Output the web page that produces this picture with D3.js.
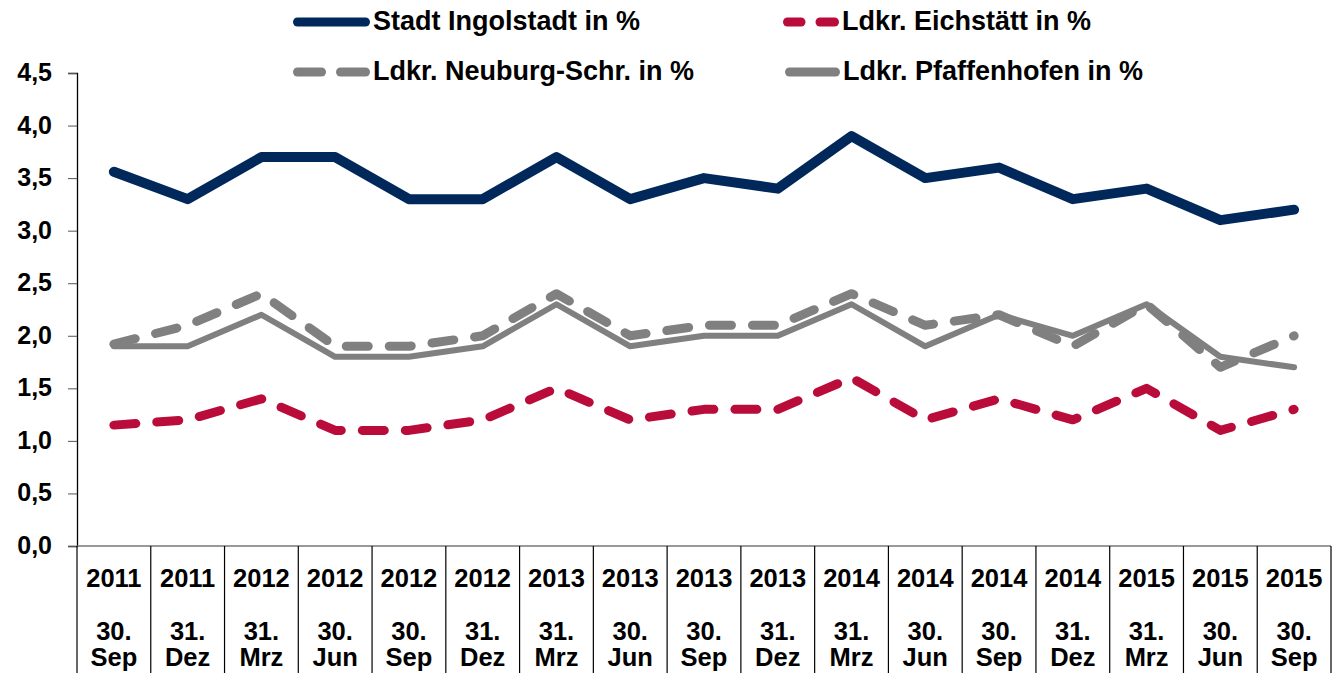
<!DOCTYPE html>
<html>
<head>
<meta charset="utf-8">
<style>
  body { margin: 0; background: #ffffff; font-family: "Liberation Sans", Arial, sans-serif; }
  svg { display: block; }
</style>
<script src="https://d3js.org/d3.v7.min.js"></script>
</head>
<body>
<svg id="chart"></svg>
<script>
let years = ["2011","2011","2012","2012","2012","2012","2013","2013","2013","2013","2014","2014","2014","2014","2015","2015","2015"]
let days = ["30.","31.","31.","30.","30.","31.","31.","30.","30.","31.","31.","30.","30.","31.","31.","30.","30."]
let months = ["Sep","Dez","Mrz","Jun","Sep","Dez","Mrz","Jun","Sep","Dez","Mrz","Jun","Sep","Dez","Mrz","Jun","Sep"]

let ingolstadt = [3.56,3.3,3.7,3.7,3.3,3.3,3.7,3.3,3.5,3.4,3.9,3.5,3.6,3.3,3.4,3.1,3.2]
let eichstaett = [1.15,1.2,1.4,1.1,1.1,1.2,1.5,1.2,1.3,1.3,1.6,1.2,1.4,1.2,1.5,1.1,1.3]
let neuburg = [1.92,2.1,2.4,1.9,1.9,2.0,2.4,2.0,2.1,2.1,2.4,2.1,2.2,1.9,2.3,1.7,2.0]
let pfaffenhofen = [1.9,1.9,2.2,1.8,1.8,1.9,2.3,1.9,2.0,2.0,2.3,1.9,2.2,2.0,2.3,1.8,1.7]

let yTicks = [0,0.5,1,1.5,2,2.5,3,3.5,4,4.5]

let width = 1339, height = 673
let plotLeft = 77, plotRight = 1331, plotTop = 73, plotBottom = 546
let font = "'Liberation Sans', Arial, sans-serif"

let svg = d3.select("#chart").attr("width", width).attr("height", height)

let idx = d3.range(years.length)
let x = d3.scaleBand().domain(idx).range([plotLeft, plotRight])
let y = d3.scaleLinear().domain([0, 4.5]).range([plotBottom, plotTop])

// y axis
let yAxis = d3.axisLeft(y).tickValues(yTicks).tickSize(9).tickPadding(16)
  .tickFormat(d => d3.format(".1f")(d).replace(".", ","))
let gy = svg.append("g").attr("transform", `translate(${plotLeft},0)`).call(yAxis)
gy.select(".domain").attr("stroke", "#000").attr("stroke-width", 1.3)
gy.selectAll(".tick line").attr("stroke", "#555")
gy.selectAll("text").attr("font-size", 25).attr("font-weight", "bold").attr("fill", "#000")
  .attr("font-family", font).attr("dy", "0.3em")

// x axis base line
svg.append("line").attr("x1", plotLeft).attr("x2", plotRight).attr("y1", plotBottom).attr("y2", plotBottom)
  .attr("stroke", "#777").attr("stroke-width", 1.5)

// category separators
let seps = idx.map(i => x(i)).concat([plotRight])
svg.append("g").selectAll("line").data(seps).enter().append("line")
  .attr("x1", d => d).attr("x2", d => d)
  .attr("y1", plotBottom).attr("y2", height)
  .attr("stroke", "#000").attr("stroke-width", 1.2)

let lab = svg.append("g").attr("font-family", font)
  .attr("font-weight", "bold").attr("font-size", 25.5).attr("text-anchor", "middle").attr("fill", "#000")
lab.selectAll(".yr").data(idx).enter().append("text")
  .attr("x", i => x(i) + x.bandwidth() / 2).attr("y", 587).text(i => years[i])
lab.selectAll(".dy").data(idx).enter().append("text")
  .attr("x", i => x(i) + x.bandwidth() / 2).attr("y", 640).text(i => days[i])
lab.selectAll(".mo").data(idx).enter().append("text")
  .attr("x", i => x(i) + x.bandwidth() / 2).attr("y", 666).text(i => months[i])

let series = [
  {name: "Stadt Ingolstadt in %", values: ingolstadt, color: "#00285A", width: 10, dash: null},
  {name: "Ldkr. Eichstätt in %", values: eichstaett, color: "#BA0C3A", width: 9, dash: "22,21"},
  {name: "Ldkr. Neuburg-Schr. in %", values: neuburg, color: "#808080", width: 9, dash: "22,21"},
  {name: "Ldkr. Pfaffenhofen in %", values: pfaffenhofen, color: "#808080", width: 6, dash: null}
]

let line = d3.line().x((d, i) => x(i) + x.bandwidth() / 2).y(d => y(d))

// draw order: Pfaffenhofen under Neuburg
let drawOrder = [3, 2, 1, 0]
drawOrder.forEach(k => {
  let s = series[k]
  svg.append("path").datum(s.values)
    .attr("d", line)
    .attr("fill", "none")
    .attr("stroke", s.color)
    .attr("stroke-width", s.width)
    .attr("stroke-linecap", "round")
    .attr("stroke-linejoin", "round")
    .attr("stroke-dasharray", s.dash)
})

// legend
let legendPos = [
  {x: 293, y: 22, w: 77}, {x: 783, y: 22, w: 56}, {x: 293, y: 72, w: 77}, {x: 785, y: 72, w: 55}
]
series.forEach((s, k) => {
  let p = legendPos[k]
  let g = svg.append("g")
  let sw = 9
  if (s.dash) {
    let seg = (p.w - sw) / 2
    g.append("line").attr("x1", p.x + sw / 2).attr("x2", p.x + seg - sw / 2 - 1).attr("y1", p.y).attr("y2", p.y)
      .attr("stroke", s.color).attr("stroke-width", sw).attr("stroke-linecap", "round")
    g.append("line").attr("x1", p.x + seg + sw + sw / 2).attr("x2", p.x + p.w - sw / 2).attr("y1", p.y).attr("y2", p.y)
      .attr("stroke", s.color).attr("stroke-width", sw).attr("stroke-linecap", "round")
  } else {
    g.append("line").attr("x1", p.x + sw / 2).attr("x2", p.x + p.w - sw / 2).attr("y1", p.y).attr("y2", p.y)
      .attr("stroke", s.color).attr("stroke-width", sw).attr("stroke-linecap", "round")
  }
  g.append("text").attr("x", p.x + p.w + 3).attr("y", p.y + 8)
    .attr("font-family", font).attr("font-weight", "bold")
    .attr("font-size", 27).attr("fill", "#000").text(s.name)
})
</script>
</body>
</html>
